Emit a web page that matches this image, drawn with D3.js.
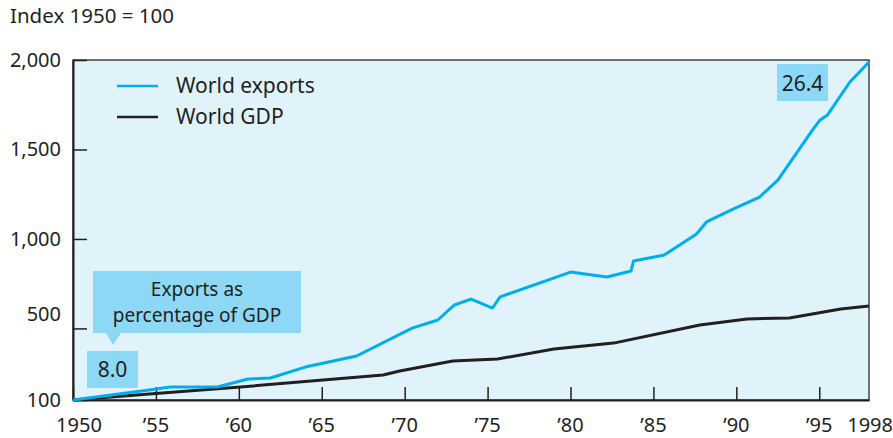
<!DOCTYPE html>
<html>
<head>
<meta charset="utf-8">
<script src="https://cdn.jsdelivr.net/npm/d3@7"></script>
<style>
  body { margin: 0; background: #fff; }
  svg { display: block; font-family: "Noto Sans", sans-serif; }
</style>
</head>
<body>
<svg></svg>
<script>
// values (index 1950 = 100)
const exportYears = [1950, 1954.6, 1955.85, 1958.7, 1960.55, 1961.9, 1964.0, 1967.1, 1970.45, 1972.0, 1973.0, 1974.0, 1975.3, 1975.75, 1980.0, 1982.2, 1983.65, 1983.8, 1985.65, 1987.6, 1988.2, 1989.8, 1991.4, 1992.5, 1994.6, 1995.05, 1995.5, 1996.85, 1998];
const exportValues = [100, 156, 173, 173, 217, 223, 284, 346, 502, 547, 631, 664, 614, 676, 815, 787, 821, 877, 910, 1028, 1095, 1167, 1234, 1329, 1609, 1665, 1693, 1877, 1989];

const gdpYears = [1950, 1954.6, 1960.1, 1968.7, 1969.7, 1972.9, 1975.6, 1979.0, 1982.6, 1987.8, 1990.65, 1993.2, 1996.3, 1998];
const gdpValues = [100, 134, 173, 240, 262, 318, 329, 385, 418, 519, 553, 558, 609, 625];

const yTicks = [100, 500, 1000, 1500, 2000];
const xTicks = [1950, 1955, 1960, 1965, 1970, 1975, 1980, 1985, 1990, 1995];
const xLabels = [1950, 1955, 1960, 1965, 1970, 1975, 1980, 1985, 1990, 1995, 1998];

const legendItems = ["World exports", "World GDP"];
const shareStart = "8.0";
const shareEnd = "26.4";

const width = 893;
const height = 438;
const margin = { top: 60, right: 24, bottom: 38, left: 73 };

const blue = "#00aeef";
const dark = "#231f20";
const callout = "#8dd8f6";
const fs = 20.5;

const svg = d3.select("svg").attr("width", width).attr("height", height);

const x = d3.scaleLinear().domain([1950, 1998]).range([margin.left, width - margin.right]);
const y = d3.scaleLinear().domain([100, 2000]).range([height - margin.bottom, margin.top]);

// plot background
svg.append("rect")
  .attr("x", x(1950)).attr("y", y(2000))
  .attr("width", x(1998) - x(1950)).attr("height", y(100) - y(2000))
  .attr("fill", "#e0f3fb")
  .attr("stroke", "#444").attr("stroke-width", 1.5);

svg.append("text")
  .attr("x", 10).attr("y", 23)
  .attr("font-size", fs).attr("fill", dark)
  .text("Index 1950 = 100");

// y axis
const yAxis = d3.axisLeft(y).tickValues(yTicks).tickFormat(d3.format(","))
  .tickSizeInner(-14).tickSizeOuter(0).tickPadding(12);
const gy = svg.append("g").attr("transform", `translate(${margin.left},0)`).call(yAxis);
gy.select(".domain").attr("stroke", dark).attr("stroke-width", 2);
gy.selectAll(".tick line").attr("stroke", dark).attr("stroke-width", 1.5);
gy.selectAll(".tick text").attr("font-size", 20).attr("fill", dark).attr("font-family", "Noto Sans")
  .attr("dy", d => d === 500 ? "-0.4em" : "0.32em");

// x axis
const xAxis = d3.axisBottom(x).tickValues(xTicks).tickFormat("")
  .tickSizeInner(-13).tickSizeOuter(0);
const gx = svg.append("g").attr("transform", `translate(0,${height - margin.bottom})`).call(xAxis);
gx.select(".domain").attr("stroke", dark).attr("stroke-width", 2);
gx.selectAll(".tick line").attr("stroke", dark).attr("stroke-width", 1.5);

svg.append("g").selectAll("text").data(xLabels).join("text")
  .attr("x", d => x(d))
  .attr("y", height - 6)
  .attr("text-anchor", d => d === 1998 ? "end" : "middle")
  .attr("dx", d => d === 1998 ? 24 : (d === 1950 ? 6 : 0))
  .attr("font-size", 20).attr("fill", dark)
  .text(d => (d === 1950 || d === 1998) ? d : "\u2019" + String(d).slice(2));

// lines
const line = d3.line().x(d => x(d[0])).y(d => y(d[1]));

svg.append("path")
  .datum(gdpYears.map((d, i) => [d, gdpValues[i]]))
  .attr("d", line).attr("fill", "none")
  .attr("stroke", dark).attr("stroke-width", 3).attr("stroke-linejoin", "round");

svg.append("path")
  .datum(exportYears.map((d, i) => [d, exportValues[i]]))
  .attr("d", line).attr("fill", "none")
  .attr("stroke", blue).attr("stroke-width", 3).attr("stroke-linejoin", "round");

// legend
const legend = svg.append("g").attr("transform", "translate(117,86)");
legendItems.forEach((name, i) => {
  const g = legend.append("g").attr("transform", `translate(0,${i * 31})`);
  g.append("line").attr("x1", 0).attr("x2", 41)
    .attr("stroke", i === 0 ? blue : dark).attr("stroke-width", 2.5);
  g.append("text").attr("x", 59).attr("dy", "0.35em")
    .attr("font-size", fs + 0.5).attr("fill", dark).text(name);
});

// callouts
const startBox = svg.append("g").attr("transform", `translate(${x(1950) + 14},${y(100) - 49})`);
startBox.append("rect").attr("width", 51).attr("height", 37).attr("fill", callout);
startBox.append("text").attr("x", 25.5).attr("y", 26).attr("text-anchor", "middle")
  .attr("font-size", 21).attr("fill", dark).text(shareStart);

const note = svg.append("g").attr("transform", `translate(${x(1950) + 20},${y(100) - 129})`);
note.append("rect").attr("width", 208).attr("height", 62).attr("fill", callout);
note.append("path").attr("d", "M13,62 L28,62 L20,74 Z").attr("fill", callout);
note.append("text").attr("x", 104).attr("y", 25).attr("text-anchor", "middle")
  .attr("font-size", 19).attr("fill", dark).text("Exports as");
note.append("text").attr("x", 104).attr("y", 51).attr("text-anchor", "middle")
  .attr("font-size", 19).attr("fill", dark).text("percentage of GDP");

const endBox = svg.append("g").attr("transform", `translate(${x(1998) - 92},${y(2000) + 4})`);
endBox.append("rect").attr("width", 51).attr("height", 37).attr("fill", callout);
endBox.append("text").attr("x", 25.5).attr("y", 27).attr("text-anchor", "middle")
  .attr("font-size", 21).attr("fill", dark).text(shareEnd);
</script>
</body>
</html>
